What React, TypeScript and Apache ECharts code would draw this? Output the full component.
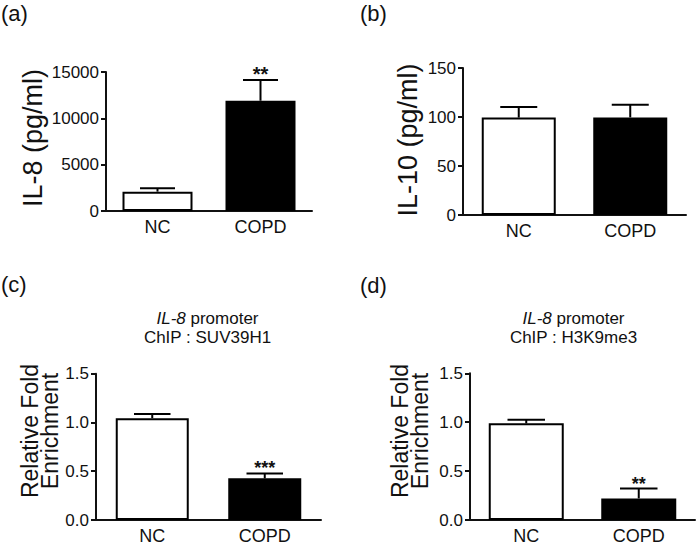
import React, { useEffect, useRef } from "react";
import * as echarts from "echarts";

const categories = ["NC", "COPD"];

const il8Mean = [2090, 11900];
const il8Sem = [360, 2240];
const il8Sig = ["", "**"];

const il10Mean = [99.4, 99.6];
const il10Sem = [10.8, 12.9];
const il10Sig = ["", ""];

const suvMean = [1.044, 0.427];
const suvSem = [0.044, 0.051];
const suvSig = ["", "***"];

const h3kMean = [0.988, 0.221];
const h3kSem = [0.037, 0.101];
const h3kSig = ["", "**"];

const FONT = '"Liberation Sans", Arial, Helvetica, sans-serif';
const INK = "#111";

const panels = [
  { mean: il8Mean, sem: il8Sem, sig: il8Sig, min: 0, max: 15000, interval: 5000, dec: 0,
    grid: { left: 106, top: 72, width: 206, height: 139 }, barWidth: 70, starSize: 20 },
  { mean: il10Mean, sem: il10Sem, sig: il10Sig, min: 0, max: 150, interval: 50, dec: 0,
    grid: { left: 463, top: 68, width: 223, height: 147 }, barWidth: 74, starSize: 20 },
  { mean: suvMean, sem: suvSem, sig: suvSig, min: 0, max: 1.5, interval: 0.5, dec: 1,
    grid: { left: 96, top: 373.7, width: 225, height: 146.8 }, barWidth: 73, starSize: 18 },
  { mean: h3kMean, sem: h3kSem, sig: h3kSig, min: 0, max: 1.5, interval: 0.5, dec: 1,
    grid: { left: 470, top: 373.3, width: 225, height: 147.4 }, barWidth: 75, starSize: 18 },
];

const barColors = ["#ffffff", "#000000"];

export default function App() {
  const ref = useRef<HTMLDivElement>(null);
  useEffect(() => {
    if (!ref.current) return;
    const chart = echarts.init(ref.current, null, { renderer: "svg" });

    const grids: any[] = [];
    const xAxes: any[] = [];
    const yAxes: any[] = [];
    const series: any[] = [];

    panels.forEach((p, i) => {
      grids.push({ ...p.grid, containLabel: false });
      xAxes.push({
        type: "category",
        gridIndex: i,
        data: categories,
        axisLine: { lineStyle: { color: INK, width: 2 } },
        axisTick: { alignWithLabel: true, length: 5, lineStyle: { color: INK, width: 2 } },
        axisLabel: { color: INK, fontSize: 18, fontFamily: FONT, margin: 7 },
        splitLine: { show: false },
      });
      yAxes.push({
        type: "value",
        gridIndex: i,
        min: p.min,
        max: p.max,
        interval: p.interval,
        axisLine: { show: true, lineStyle: { color: INK, width: 2 } },
        axisTick: { show: true, length: 5, lineStyle: { color: INK, width: 2 } },
        axisLabel: {
          color: INK, fontSize: 17, fontFamily: FONT, margin: 7,
          formatter: (v: number) => v.toFixed(p.dec),
        },
        splitLine: { show: false },
      });
      series.push({
        type: "bar",
        xAxisIndex: i,
        yAxisIndex: i,
        barWidth: p.barWidth,
        data: p.mean.map((v, k) => ({
          value: v,
          itemStyle: { color: barColors[k], borderColor: "#000", borderWidth: 2 },
        })),
        z: 2,
      });
      series.push({
        type: "custom",
        xAxisIndex: i,
        yAxisIndex: i,
        z: 3,
        data: p.mean.map((v, k) => [k, v, v + p.sem[k]]),
        renderItem: (params: any, api: any) => {
          const k = api.value(0);
          const v = api.value(1);
          const e = api.value(2);
          const s = p.sig[k];
          const p0 = api.coord([k, v]);
          const p1 = api.coord([k, e]);
          const half = p.barWidth / 4;
          const children: any[] = [
            { type: "line", shape: { x1: p0[0], y1: p0[1], x2: p1[0], y2: p1[1] },
              style: { stroke: "#000", lineWidth: 2 } },
            { type: "line", shape: { x1: p1[0] - half, y1: p1[1], x2: p1[0] + half, y2: p1[1] },
              style: { stroke: "#000", lineWidth: 2 } },
          ];
          if (s) {
            children.push({
              type: "text",
              style: {
                text: s, x: p1[0], y: p1[1] + 4, align: "center", verticalAlign: "bottom",
                fontSize: p.starSize, fontWeight: "bold", fontFamily: FONT, fill: INK,
              },
            });
          }
          return { type: "group", children };
        },
      });
    });

    const txt = (text: string, x: number, y: number, fontSize: number, extra: any = {}) => ({
      type: "text",
      x, y,
      rotation: extra.rotation || 0,
      style: {
        text, fontSize, fontFamily: FONT, fill: INK,
        align: extra.align || "center", verticalAlign: "middle",
        lineHeight: extra.lineHeight,
      },
    });
    const rot = Math.PI / 2;

    const title = (line2: string, x: number) => ({
      type: "text", x, y: 328,
      style: {
        text: "{it|IL-8}{n| promoter}\n{n|" + line2 + "}",
        align: "center", verticalAlign: "middle",
        fontSize: 17, fontFamily: FONT, fill: INK, lineHeight: 19,
        rich: {
          it: { fontStyle: "italic", fontSize: 17, fontFamily: FONT, fill: INK, lineHeight: 19 },
          n: { fontSize: 17, fontFamily: FONT, fill: INK, lineHeight: 19 },
        },
      },
    });

    const graphic: any[] = [
      txt("(a)", 1, 13.5, 22, { align: "left" }),
      txt("(b)", 360, 13.5, 22, { align: "left" }),
      txt("(c)", 1, 284, 22, { align: "left" }),
      txt("(d)", 360, 285, 22, { align: "left" }),
      txt("IL-8 (pg/ml)", 33, 138, 27, { rotation: rot }),
      txt("IL-10 (pg/ml)", 408, 140, 27, { rotation: rot }),
      txt("Relative Fold\nEnrichment", 39.5, 431, 23, { rotation: rot, lineHeight: 20 }),
      txt("Relative Fold\nEnrichment", 409.5, 431, 23, { rotation: rot, lineHeight: 20 }),
      title("ChIP : SUV39H1", 207.5),
      title("ChIP : H3K9me3", 573.5),
    ];

    chart.setOption({
      animation: false,
      backgroundColor: "#ffffff",
      grid: grids,
      xAxis: xAxes,
      yAxis: yAxes,
      series,
      graphic,
    });
    return () => chart.dispose();
  }, []);

  return (
    <div
      ref={ref}
      style={{ position: "absolute", left: 0, top: 0, width: 697, height: 545, background: "#fff" }}
    />
  );
}
